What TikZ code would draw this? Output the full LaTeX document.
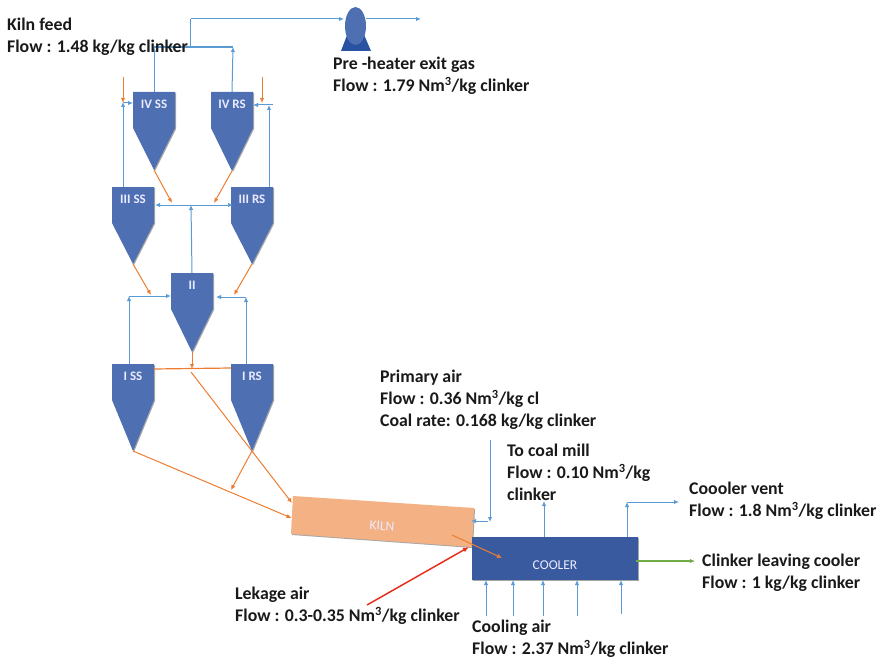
\documentclass[tikz,border=0pt]{standalone}
\usepackage{fontspec}
\setmainfont{Carlito}
\usepackage{xcolor}
\usetikzlibrary{
  arrows.meta,
  shapes.geometric,
  shadows
}
\definecolor{airblue}{HTML}{5B9BD5}
\definecolor{feedorange}{HTML}{ED7D31}
\definecolor{clinkergreen}{HTML}{70AD47}
\definecolor{leakred}{HTML}{E5301E}
\definecolor{kilnfill}{HTML}{F4B183}
\definecolor{coolerfill}{HTML}{3A5A9F}
\definecolor{cyctop}{HTML}{4E6FB2}
\definecolor{cycmid}{HTML}{2A52A2}
\definecolor{cyctip}{HTML}{4E6FB2}

\begin{document}
\begin{tikzpicture}[
  x=1pt, y=-1pt,
  softshadow/.style={drop shadow={shadow xshift=1pt, shadow yshift=-1pt, opacity=0.35, fill=black}},
  cycbody/.style={
    top color=cyctop, middle color=cycmid, bottom color=cyctip,
    shading angle=0, softshadow
  },
  cyclabel/.style={
    minimum width=42pt, minimum height=24pt, inner sep=0pt, anchor=north,
    text=white!92!blue, font=\fontsize{13}{15}\selectfont\bfseries
  },
  flowtext/.style={
    anchor=north west, align=left, inner sep=0pt, text=black!90,
    font=\fontsize{17.8}{22}\selectfont\bfseries
  },
  unitlabel/.style={text=white!92!blue, font=\fontsize{13.5}{15}\selectfont},
  air/.style={draw=airblue, line width=1pt, -{Latex[length=5pt,width=4.5pt]}},
  airmain/.style={draw=airblue, line width=1.6pt},
  feed/.style={draw=feedorange, line width=1pt, -{Latex[length=5pt,width=4.5pt]}},
  feedplain/.style={draw=feedorange, line width=1.2pt}
]
  \useasboundingbox (0,0) rectangle (881,658);

  % cyclones
  \foreach \nm/\cx/\cy/\th/\lab in {
    ivss/154/92/78/IV SS, ivrs/232/92/79/IV RS,
    iiiss/133/187/77/III SS, iiirs/252/187/77/III RS,
    ii/192/273/79/II,
    iss/133/364/87/I SS, irs/252/364/87/I RS} {
    \begin{scope}[shift={(\cx,\cy)}]
      \path[cycbody] (-21,0) -- (21,0) -- (21,36) -- (0,\th) -- (-21,36) -- cycle;
      \node[cyclabel] (\nm) at (0,0) {\lab};
      \coordinate (\nm tip) at (0,\th);
    \end{scope}
  }

  % kiln and cooler
  \path[fill=kilnfill, softshadow] (293,496) -- (474,508) -- (472,547) -- (291,534) -- cycle;
  \node[unitlabel, rotate=-3.5] (kiln) at (382,526) {KILN};
  \node[fill=coolerfill, minimum width=166pt, minimum height=43pt, inner sep=0pt,
        softshadow] (cooler) at (555,558.5) {};
  \node[unitlabel] (coolerlabel) at (555,565) {COOLER};

  % fan
  \path[fill=cycmid] (341,51) -- (371,51) -- (362,30) -- (349,30) -- cycle;
  \node[draw=none, ellipse, fill=cyctop, minimum width=21pt, minimum height=38pt,
        inner sep=0pt] (fan) at (355.5,26) {};

  % free ends
  \foreach \nm/\px/\py in {
    stackjoin/190.5/47, stacktop/190.5/19, ssjoin/154/47, rsjoin/233/47, fanin/344/19,
    fanout/366/19, stackend/421/19,
    iiissup/123/102, ivssin/123/103, ivssfeed/123/77, ivsshit/133/103,
    iiirsup/269/105, ivrsin/273/105, ivrsfeed/262/77, ivrsend/262/103, ivrshit/253/105,
    ivsslow/172/203, ivrslow/214/203,
    iimid/191/205, iiiin/155/205, iiirin/233/205,
    iiislow/151/295, iiirlow/234/295,
    issup/129/296, iileft/171/296, irsup/246/297, iiright/216/297,
    iidrop/192/369, orjoin/191/372, isside/154/369, irside/231/368,
    kilntop/292/503, kilnlow/291.5/518, irslow/231/490,
    primstart/490/440, primend/490/522, primjoin/488/521, kilnair/471/521,
    millfoot/544/537, millend/544/501, ventfoot/627/537, ventend/627/502, ventout/679/502,
    clinkstart/636/561, clinkend/695/561,
    dropstart/452/535, dropend/502/558,
    leakstart/367/605, leakend/469/547,
    aa/486/616, ab/513/616, ac/543/616, ad/577/616, ae/621/614,
    ba/486/580, bb/513/580, bc/543/580, bd/577/580, be/621/580} {
    \coordinate (\nm) at (\px,\py);
  }

  % gas and air lines
  \draw[airmain] (stackjoin) -- (stacktop);
  \draw[airmain] (ssjoin) -- (rsjoin);
  \draw[air] (stacktop) -- (fanin);
  \draw[air] (fanout) -- (stackend);
  \draw[air] (ivss.north) -- (ssjoin);
  \draw[air] (ivrs.north) -- (rsjoin);
  \draw[air] (iiiss.north -| iiissup) -- (iiissup);
  \draw[air] (ivssin) -- (ivsshit);
  \draw[air] (iiirs.north -| iiirsup) -- (iiirsup);
  \draw[air] (ivrsin) -- (ivrshit);
  \draw[air] (ii.north) -- (iimid);
  \draw[air] (iimid) -- (iiiin);
  \draw[air] (iimid) -- (iiirin);
  \draw[air] (iss.north -| issup) -- (issup);
  \draw[air] (issup) -- (iileft);
  \draw[air] (irs.north -| irsup) -- (irsup);
  \draw[air] (irsup) -- (iiright);
  \draw[air] (primstart) -- (primend);
  \draw[air] (primjoin) -- (kilnair);
  \draw[air] (millfoot) -- (millend);
  \draw[air] (ventfoot) -- (ventend);
  \draw[air] (ventend) -- (ventout);
  \foreach \a/\b in {aa/ba, ab/bb, ac/bc, ad/bd, ae/be}
    \draw[air] (\a) -- (\b);

  % meal lines
  \draw[feed] (ivssfeed) -- (ivssin);
  \draw[feed] (ivrsfeed) -- (ivrsend);
  \draw[feed] (ivsstip) -- (ivsslow);
  \draw[feed] (ivrstip) -- (ivrslow);
  \draw[feed] (iiisstip) -- (iiislow);
  \draw[feed] (iiirstip) -- (iiirlow);
  \draw[feed] (iitip) -- (iidrop);
  \draw[feedplain] (isside) -- (irside);
  \draw[feed] (orjoin) -- (kilntop);
  \draw[feed] (isstip) -- (kilnlow);
  \draw[feed] (irstip) -- (irslow);
  \draw[feed] (dropstart) -- (dropend);

  \draw[draw=clinkergreen, line width=1.3pt, -{Latex[length=5pt,width=4.5pt]}] (clinkstart) -- (clinkend);
  \draw[draw=leakred, line width=1.5pt, -{Latex[length=6pt,width=5pt]}] (leakstart) -- (leakend);

  % flow data
  \node[flowtext] (feedtext) at (7,18) {Kiln feed\\Flow : 1.48 kg/kg clinker};
  \node[flowtext] (gastext) at (333,57) {Pre -heater exit gas\\Flow : 1.79 Nm\textsuperscript{3}/kg clinker};
  \node[flowtext] (primtext) at (380,370) {Primary air\\Flow : 0.36 Nm\textsuperscript{3}/kg cl\\Coal rate: 0.168 kg/kg clinker};
  \node[flowtext] (milltext) at (507,444) {To coal mill\\Flow : 0.10 Nm\textsuperscript{3}/kg\\clinker};
  \node[flowtext] (venttext) at (689,482) {Coooler vent\\Flow : 1.8 Nm\textsuperscript{3}/kg clinker};
  \node[flowtext] (clinktext) at (702,554) {Clinker leaving cooler\\Flow : 1 kg/kg clinker};
  \node[flowtext] (leaktext) at (235,587) {Lekage air\\Flow : 0.3-0.35 Nm\textsuperscript{3}/kg clinker};
  \node[flowtext] (cooltext) at (472,620) {Cooling air\\Flow : 2.37 Nm\textsuperscript{3}/kg clinker};
\end{tikzpicture}
\end{document}
